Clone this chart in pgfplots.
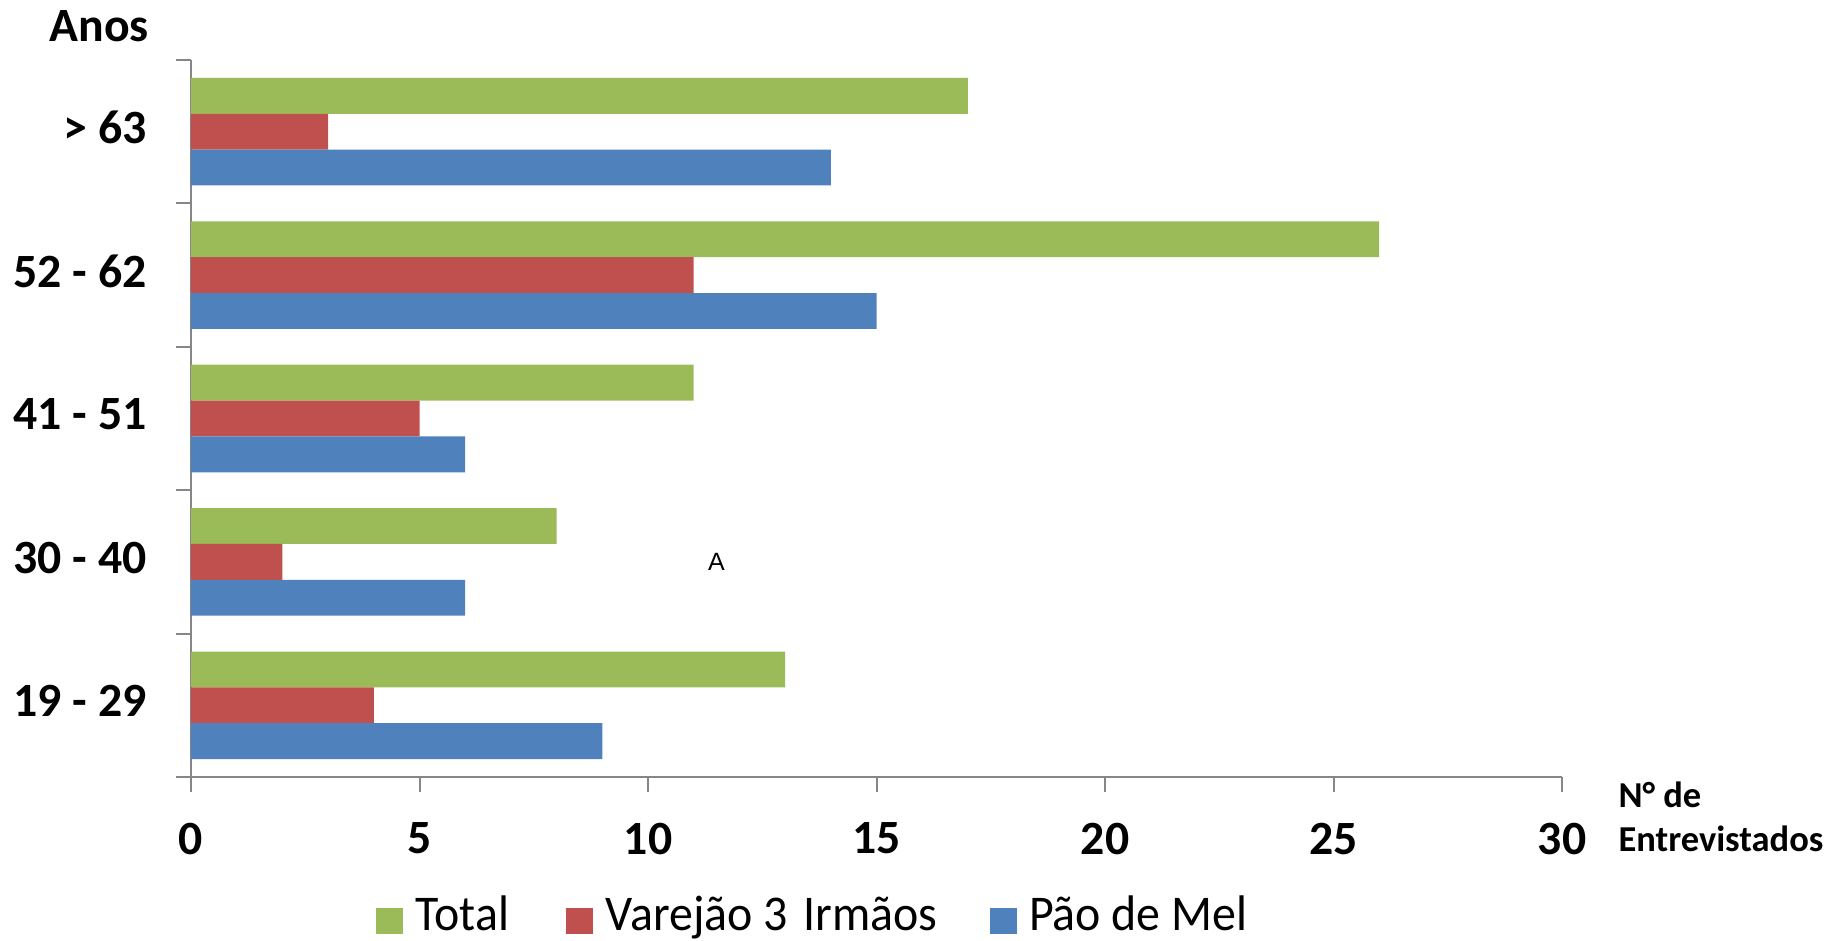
\documentclass[border=0pt]{standalone}
\usepackage{fontspec}
\setmainfont{Carlito}
\newfontfamily\legfont[FakeStretch=0.958]{Carlito}
\newfontfamily\arialfont{Liberation Sans}
\usepackage{pgfplots}
\usepackage{pgfplotstable}
\pgfplotsset{compat=1.18}
\definecolor{cTotal}{HTML}{9BBB59}
\definecolor{cVar}{HTML}{C0504D}
\definecolor{cPao}{HTML}{4F81BD}
\definecolor{axgray}{HTML}{868686}

\pgfplotstableread{
cat total var pao
0 13 4 9
1 8 2 6
2 11 5 6
3 26 11 15
4 17 3 14
}\datatab

\begin{document}
\begin{tikzpicture}
\path[use as bounding box] (-76.4pt,-65.2pt) rectangle (656.8pt,310.8pt);
\begin{axis}[
 scale only axis, width=548.4pt, height=286.8pt,
 at={(0pt,0pt)}, anchor=south west,
 xmin=0, xmax=30, ymin=-0.5, ymax=4.5,
 axis x line*=bottom, axis y line*=left,
 x axis line style={-}, y axis line style={-},
 axis line style={axgray, line width=0.8pt},
 xtick={0,5,...,30},
 ytick={-0.5,0.5,...,4.5},
 yticklabels={19 - 29,30 - 40,41 - 51,52 - 62,> 63},
 y tick label as interval,
 tick align=outside,
 major tick length=6pt,
 tick style={axgray, line width=0.8pt},
 /pgf/number format/assume math mode=true,
 ticklabel style={font=\bfseries\fontsize{19.1}{19.1}\selectfont},
 x tick label style={yshift=-8.8pt},
 y tick label style={xshift=-8.2pt, yshift=1.6pt},
 xbar, bar width=0.25,
 legend columns=3,
 legend style={draw=none, fill=none, inner sep=0pt, outer sep=0pt,
   at={(0.1349,-0.1716)}, anchor=north west,
   font=\legfont\fontsize{20}{20}\selectfont,
   nodes={inner sep=0pt, text height=12pt, text depth=2pt},
   /tikz/every odd column/.append style={column sep=5.0pt},
   /tikz/every even column/.append style={column sep=20.8pt}},
]
\addplot[fill=cTotal, draw=none, bar shift=0.25,
  legend image code/.code={\fill[cTotal] (0pt,-6.6pt) rectangle (10.8pt,3.8pt);}]
  table[x=total, y=cat]{\datatab};
\addplot[fill=cVar, draw=none, bar shift=0,
  legend image code/.code={\fill[cVar] (0pt,-6.6pt) rectangle (10.8pt,3.8pt);}]
  table[x=var, y=cat]{\datatab};
\addplot[fill=cPao, draw=none, bar shift=-0.25,
  legend image code/.code={\fill[cPao] (0pt,-6.6pt) rectangle (10.8pt,3.8pt);}]
  table[x=pao, y=cat]{\datatab};
\legend{Total\hspace*{2.0pt}, Varejão 3\ \hspace*{2pt}Irmãos, Pão de Mel}
\node[font=\arialfont\fontsize{10}{10}\selectfont] at (axis cs:11.5,1) {A};
\end{axis}
\node[anchor=base east, font=\bfseries\fontsize{19.1}{19.1}\selectfont, inner sep=0pt] at (-16.7pt,294.4pt) {Anos};
\node[anchor=base west, font=\bfseries\fontsize{14.6}{14.6}\selectfont, inner sep=0pt] at (570.8pt,-12.3pt) {N° de};
\node[anchor=base west, font=\bfseries\fontsize{14.6}{14.6}\selectfont, inner sep=0pt] at (570.8pt,-29.8pt) {Entrevistados};
\end{tikzpicture}
\end{document}
